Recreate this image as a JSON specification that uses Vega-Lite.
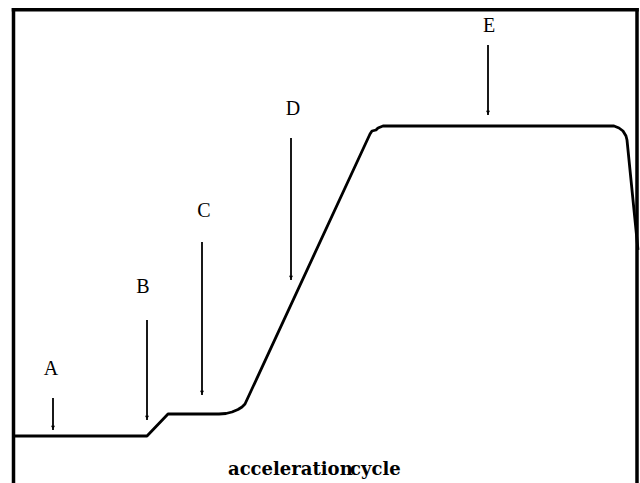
{
  "$schema": "https://vega.github.io/schema/vega-lite/v6.json",
  "autosize": {"type": "none"},
  "width": 640,
  "height": 483,
  "padding": 0,
  "background": "white",
  "config": {"view": {"stroke": null}},
  "datasets": {
    "speed": [
      {"i": 1, "t": 14, "v": 47},
      {"i": 2, "t": 147, "v": 47},
      {"i": 3, "t": 168, "v": 69},
      {"i": 4, "t": 219, "v": 69},
      {"i": 5, "t": 226, "v": 69.5},
      {"i": 6, "t": 232, "v": 71},
      {"i": 7, "t": 238, "v": 73.5},
      {"i": 8, "t": 242, "v": 76},
      {"i": 9, "t": 245, "v": 79},
      {"i": 10, "t": 370, "v": 349},
      {"i": 11, "t": 372, "v": 352},
      {"i": 12, "t": 376, "v": 353},
      {"i": 13, "t": 378, "v": 355},
      {"i": 14, "t": 383, "v": 357},
      {"i": 15, "t": 614, "v": 357},
      {"i": 16, "t": 619, "v": 355},
      {"i": 17, "t": 623, "v": 352},
      {"i": 18, "t": 626, "v": 347},
      {"i": 19, "t": 627, "v": 343},
      {"i": 20, "t": 638, "v": 233}
    ],
    "vframe": [
      {"x": 13.5, "y1": 474.9, "y2": -5},
      {"x": 637, "y1": 474.9, "y2": -5}
    ],
    "hframe": [
      {"x1": 11.75, "x2": 638.75, "y": 473.2}
    ],
    "arrows": [
      {"x": 53, "top": 85, "tip": 53, "head": 55.5},
      {"x": 147, "top": 163, "tip": 63, "head": 65.5},
      {"x": 202, "top": 241, "tip": 88, "head": 90.5},
      {"x": 291, "top": 345, "tip": 203, "head": 205.5},
      {"x": 488, "top": 438, "tip": 368, "head": 370.5}
    ],
    "labels": [
      {"x": 51, "y": 108, "label": "A"},
      {"x": 143, "y": 190, "label": "B"},
      {"x": 204, "y": 266, "label": "C"},
      {"x": 293, "y": 368, "label": "D"},
      {"x": 489, "y": 451, "label": "E"}
    ],
    "caption": [
      {"x": 228, "y": 8, "word": "acceleration"},
      {"x": 350, "y": 8, "word": "cycle"}
    ]
  },
  "layer": [
    {
      "data": {"name": "vframe"},
      "mark": {"type": "rule", "color": "black", "strokeWidth": 3.5},
      "encoding": {
        "x": {"field": "x", "type": "quantitative", "scale": {"domain": [0, 640], "nice": false, "zero": false}, "axis": null},
        "y": {"field": "y1", "type": "quantitative", "scale": {"domain": [0, 483], "nice": false, "zero": false}, "axis": null},
        "y2": {"field": "y2"}
      }
    },
    {
      "data": {"name": "hframe"},
      "mark": {"type": "rule", "color": "black", "strokeWidth": 3.5},
      "encoding": {
        "x": {"field": "x1", "type": "quantitative"},
        "x2": {"field": "x2"},
        "y": {"field": "y", "type": "quantitative"}
      }
    },
    {
      "data": {"name": "arrows"},
      "mark": {"type": "rule", "color": "black", "strokeWidth": 1.8},
      "encoding": {
        "x": {"field": "x", "type": "quantitative"},
        "y": {"field": "top", "type": "quantitative"},
        "y2": {"field": "tip"}
      }
    },
    {
      "data": {"name": "arrows"},
      "mark": {"type": "point", "filled": true, "color": "black", "opacity": 1, "shape": "triangle-down", "size": 16, "strokeWidth": 0},
      "encoding": {
        "x": {"field": "x", "type": "quantitative"},
        "y": {"field": "head", "type": "quantitative"}
      }
    },
    {
      "data": {"name": "speed"},
      "mark": {"type": "line", "color": "black", "strokeWidth": 2.8, "strokeJoin": "round"},
      "encoding": {
        "x": {"field": "t", "type": "quantitative"},
        "y": {"field": "v", "type": "quantitative"},
        "order": {"field": "i", "type": "quantitative"}
      }
    },
    {
      "data": {"name": "labels"},
      "mark": {"type": "text", "font": "Liberation Serif", "fontSize": 20, "align": "center", "baseline": "alphabetic", "color": "black"},
      "encoding": {
        "x": {"field": "x", "type": "quantitative"},
        "y": {"field": "y", "type": "quantitative"},
        "text": {"field": "label"}
      }
    },
    {
      "data": {"name": "caption"},
      "mark": {"type": "text", "font": "DejaVu Serif", "fontSize": 18, "fontWeight": "bold", "align": "left", "baseline": "alphabetic", "color": "black"},
      "encoding": {
        "x": {"field": "x", "type": "quantitative"},
        "y": {"field": "y", "type": "quantitative"},
        "text": {"field": "word"}
      }
    }
  ]
}
